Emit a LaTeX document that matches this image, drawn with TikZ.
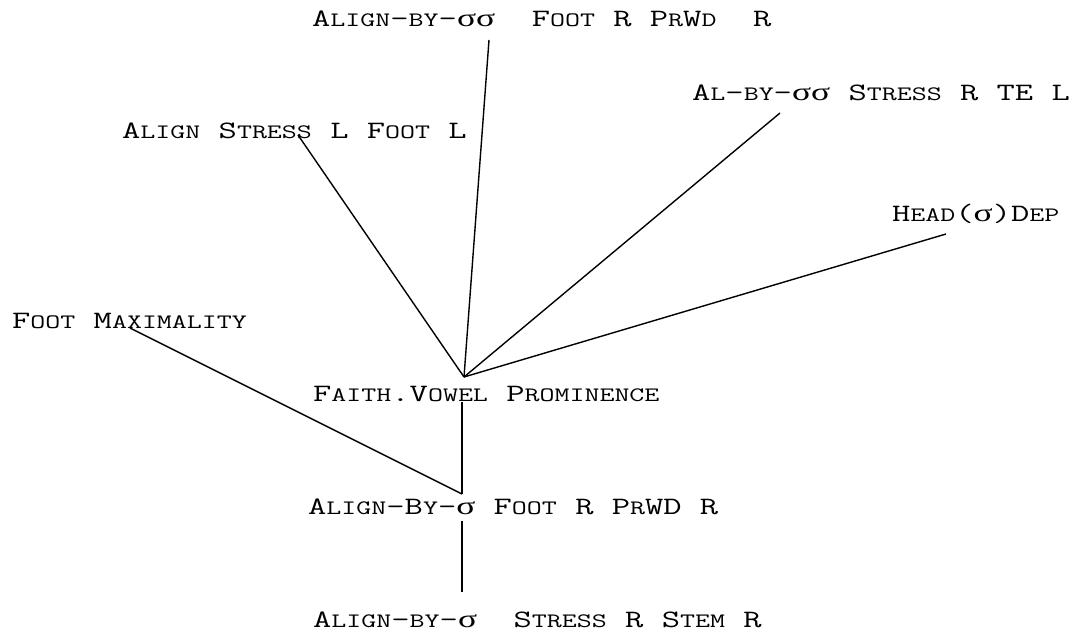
\documentclass[tikz,border=0pt]{standalone}
\usepackage{fontspec}
\usepackage{graphicx}
\newfontfamily\grkfont{Liberation Serif}
% typewriter small caps built by hand: full-size capitals, reduced capitals
\newcommand\smc[1]{{\fontsize{20.5bp}{20.5bp}\selectfont #1}}
\newcommand\sig{{\grkfont\fontsize{25bp}{25bp}\selectfont σ}}
\newcommand\lab[1]{\scalebox{1.42}[1]{\ttfamily\fontsize{25bp}{25bp}\selectfont #1}}
\tikzset{
  cname/.style={inner sep=0pt, anchor=base west, text=black},
  edge/.style={draw=black, line width=1.4bp}
}
\begin{document}
\begin{tikzpicture}[x=1bp, y=-1bp]
\useasboundingbox (0,0) rectangle (1075,638);

% constraint names
\node[cname] (alfoot)  at (312,27)  {\lab{A\smc{LIGN}-\smc{BY}-\sig\sig\ \ F\smc{OOT} R P\smc{R}W\smc{D}\ \ R}};
\node[cname] (stressl) at (122,139) {\lab{A\smc{LIGN} S\smc{TRESS} L F\smc{OOT} L}};
\node[cname] (alby)    at (692,101) {\lab{A\smc{L}-\smc{BY}-\sig\sig{} S\smc{TRESS} R TE L}};
\node[cname] (headdep) at (892,222) {\lab{H\smc{EAD}(\sig)D\smc{EP}}};
\node[cname] (footmax) at (12,328)  {\lab{F\smc{OOT} M\smc{AXIMALITY}}};
\node[cname] (faith)   at (313,401) {\lab{F\smc{AITH}.V\smc{OWEL} P\smc{ROMINENCE}}};
\node[cname] (alprwd)  at (308,514) {\lab{A\smc{LIGN}-B\smc{Y}-\sig{} F\smc{OOT} R P\smc{R}WD R}};
\node[cname] (alstem)  at (313,627) {\lab{A\smc{LIGN}-\smc{BY}-\sig\ \ S\smc{TRESS} R S\smc{TEM} R}};

% attachment points of the ranking lines
\coordinate (hub)   at (464,377);
\coordinate (pA)    at (489,40);
\coordinate (pB)    at (298,135);
\coordinate (pC)    at (780,113);
\coordinate (pD)    at (946,234);
\coordinate (pE)    at (130,328);
\coordinate (fBot)  at (462,402);
\coordinate (mTop)  at (462,494);
\coordinate (mBot)  at (462,521);
\coordinate (sTop)  at (462,592);

\draw[edge] (pA) -- (hub);
\draw[edge] (pB) -- (hub);
\draw[edge] (pC) -- (hub);
\draw[edge] (pD) -- (hub);
\draw[edge] (pE) -- (mTop);
\draw[edge] (fBot) -- (mTop);
\draw[edge] (mBot) -- (sTop);
\end{tikzpicture}
\end{document}
